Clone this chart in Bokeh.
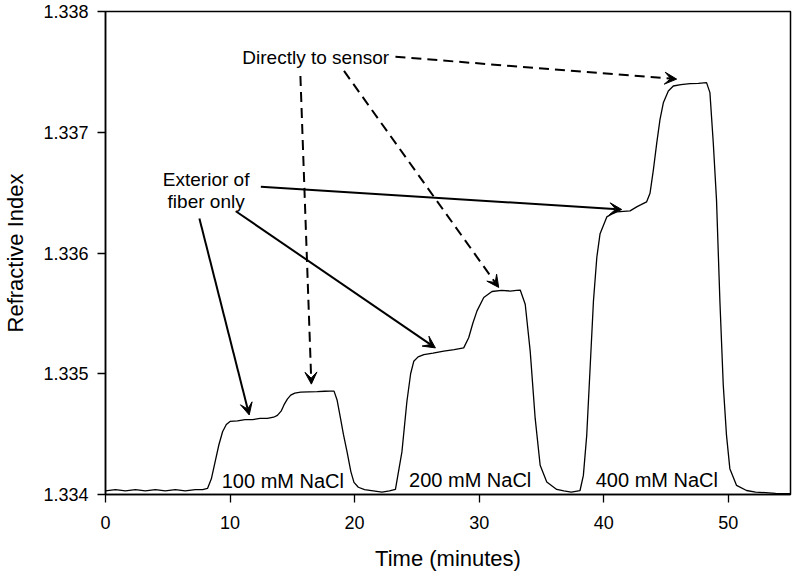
from bokeh.plotting import figure
from bokeh.models import Range1d, FixedTicker, NumeralTickFormatter, Arrow, VeeHead, Label
from bokeh.embed import file_html
from bokeh.resources import INLINE

# ---- data: refractive index trace (time in minutes, RI) ----
time_min = [0.0, 0.8, 1.6, 2.4, 3.2, 4.0, 4.8, 5.6, 6.4, 7.2, 7.8, 8.19,
            8.5, 8.8, 9.1, 9.4, 9.7, 10.0, 10.6, 11.2, 11.8, 12.4, 13.0, 13.5,
            13.8, 14.1, 14.33, 14.6, 14.87, 15.2, 15.67, 16.3, 17.0, 17.6, 18.0, 18.35,
            18.6, 18.87, 19.1, 19.4, 19.7, 19.95, 20.3, 20.8, 21.5, 22.2, 22.8, 23.28,
            23.8, 24.2, 24.5, 24.75, 25.1, 25.56, 26.3, 27.16, 28.0, 28.76, 29.16, 29.5,
            29.83, 30.37, 31.03, 31.8, 32.5, 33.0, 33.3, 33.7, 34.1, 34.5, 34.9, 35.43,
            36.23, 36.8, 37.4, 38.1, 38.37, 38.64, 38.91, 39.18, 39.45, 39.71, 40.25, 40.6,
            41.05, 41.6, 42.12, 42.65, 43.0, 43.45, 43.72, 43.99, 44.26, 44.52, 44.79, 45.19,
            45.59, 46.2, 46.93, 47.6, 48.26, 48.53, 48.8, 49.06, 49.33, 49.6, 49.86, 50.13,
            50.67, 51.47, 52.2, 53.0, 53.8, 54.5, 55.0]
refractive_index = [1.33403, 1.33404, 1.33403, 1.33404, 1.33403, 1.33404, 1.33403, 1.33404, 1.33403, 1.33404, 1.33404, 1.33405,
                    1.33413, 1.33427, 1.33441, 1.33452, 1.33458, 1.334605, 1.33461, 1.33462, 1.33462, 1.33463, 1.33463, 1.33464,
                    1.334655, 1.33469, 1.334742, 1.33479, 1.334823, 1.33484, 1.334847, 1.33485, 1.334852, 1.334855, 1.334856, 1.334856,
                    1.33478, 1.33463, 1.33450, 1.33435, 1.33419, 1.33410, 1.33406, 1.33404, 1.33403, 1.33402, 1.33403, 1.334042,
                    1.334353, 1.33477, 1.33500, 1.335103, 1.33514, 1.335159, 1.33517, 1.335187, 1.3352, 1.335214, 1.335298, 1.33542,
                    1.335521, 1.335631, 1.335681, 1.33569, 1.335685, 1.33569, 1.335693, 1.335576, 1.335187, 1.33463, 1.334242, 1.334103,
                    1.334042, 1.33403, 1.33402, 1.334033, 1.334158, 1.334492, 1.335048, 1.335604, 1.335965, 1.33616, 1.336299, 1.33632,
                    1.33634, 1.336345, 1.336349, 1.336382, 1.3364, 1.336424, 1.336494, 1.336688, 1.33691, 1.337105, 1.337244, 1.337341,
                    1.337383, 1.337395, 1.337403, 1.337405, 1.337411, 1.337328, 1.336911, 1.336438, 1.335604, 1.334909, 1.334492, 1.334214,
                    1.334075, 1.334033, 1.33402, 1.334015, 1.33401, 1.334008, 1.334008]

x_ticks = [0, 10, 20, 30, 40, 50]
y_ticks = [1.334, 1.335, 1.336, 1.337, 1.338]

# ---- annotations ----
salt_labels = ["100 mM NaCl", "200 mM NaCl", "400 mM NaCl"]
salt_label_t = [14.24, 29.28, 44.27]
salt_label_ri = [1.334108, 1.334117, 1.334117]

direct_text = "Directly to sensor"
direct_text_pos = (16.88, 1.33762)
exterior_text = ["Exterior of", "fiber only"]
exterior_text_t = 8.08
exterior_text_ri = [1.336605, 1.336424]

# dashed arrows: (t_start, ri_start, t_end, ri_end)
direct_arrows = [(15.65, 1.337466, 16.53, 1.334914),
                 (19.15, 1.337508, 31.57, 1.335715),
                 (23.28, 1.337625, 45.86, 1.337440)]
# solid arrows
exterior_arrows = [(7.54, 1.336286, 11.54, 1.334659),
                   (10.46, 1.336346, 26.49, 1.335214),
                   (12.47, 1.336549, 41.45, 1.336360)]

FONT = "Liberation Sans"

p = figure(width=792, height=576, x_range=Range1d(0, 55), y_range=Range1d(1.334, 1.338),
           output_backend="svg", toolbar_location=None,
           min_border_left=103, min_border_right=2, min_border_top=11, min_border_bottom=82)

p.line(time_min, refractive_index, line_color="black", line_width=1.3)

for axis in (p.xaxis[0], p.yaxis[0]):
    axis.axis_line_color = "black"
    axis.axis_line_width = 1.5
    axis.major_tick_line_color = "black"
    axis.major_tick_line_width = 1.3
    axis.major_tick_out = 8
    axis.major_tick_in = 0
    axis.minor_tick_line_color = None
    axis.major_label_text_font = FONT
    axis.major_label_text_font_size = "18px"
    axis.major_label_text_color = "black"
    axis.axis_label_text_font = FONT
    axis.axis_label_text_font_size = "22px"
    axis.axis_label_text_font_style = "normal"
    axis.axis_label_text_color = "black"

p.xaxis.ticker = FixedTicker(ticks=x_ticks)
p.yaxis.ticker = FixedTicker(ticks=y_ticks)
p.yaxis.formatter = NumeralTickFormatter(format="0.000")
p.xaxis.axis_label = "Time (minutes)"
p.yaxis.axis_label = "Refractive Index"
p.xaxis.major_label_standoff = 13
p.yaxis.major_label_standoff = 9
p.xaxis.axis_label_standoff = 14
p.yaxis.axis_label_standoff = 12

p.xgrid.grid_line_color = None
p.ygrid.grid_line_color = None
p.outline_line_color = "black"
p.outline_line_width = 1.5
p.outline_line_alpha = 1.0

for name, t, ri in zip(salt_labels, salt_label_t, salt_label_ri):
    p.add_layout(Label(x=t, y=ri, text=name, text_align="center", text_baseline="alphabetic",
                       text_font=FONT, text_font_size="20px", text_color="black"))

p.add_layout(Label(x=direct_text_pos[0], y=direct_text_pos[1], text=direct_text,
                   text_align="center", text_baseline="alphabetic",
                   text_font=FONT, text_font_size="19px", text_color="black"))
for line, ri in zip(exterior_text, exterior_text_ri):
    p.add_layout(Label(x=exterior_text_t, y=ri, text=line, text_align="center",
                       text_baseline="alphabetic", text_font=FONT, text_font_size="19px",
                       text_color="black"))

for (x0, y0, x1, y1) in direct_arrows:
    p.add_layout(Arrow(x_start=x0, y_start=y0, x_end=x1, y_end=y1,
                       line_color="black", line_width=2, line_dash="10 6",
                       end=VeeHead(size=12, fill_color="black", line_color="black", line_width=1)))
for (x0, y0, x1, y1) in exterior_arrows:
    p.add_layout(Arrow(x_start=x0, y_start=y0, x_end=x1, y_end=y1,
                       line_color="black", line_width=2,
                       end=VeeHead(size=12, fill_color="black", line_color="black", line_width=1)))

open("out.html", "w").write(file_html(p, INLINE))
